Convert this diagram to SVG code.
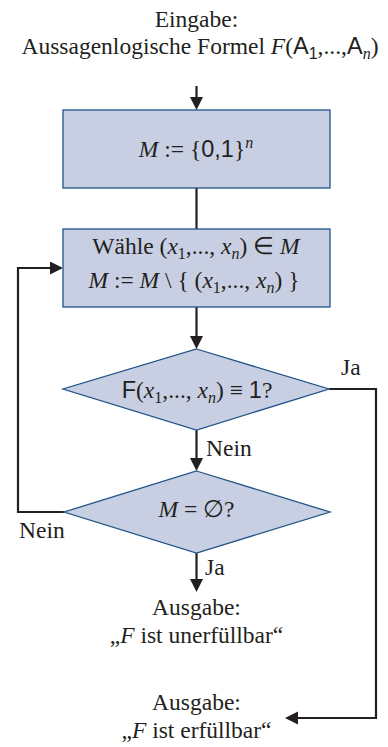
<svg xmlns="http://www.w3.org/2000/svg" width="388" height="747" viewBox="0 0 388 747">
<style>
.t{font-family:"Liberation Serif","Times New Roman",serif;font-size:23.5px;fill:#231f20}
.c{text-anchor:middle}
.s{font-family:"Liberation Sans",Arial,sans-serif}
.i{font-style:italic}
.sub{font-size:16px}
.node{fill:#c8cfe2;stroke:#1f5388;stroke-width:1.3}
.edge{fill:none;stroke:#231f20;stroke-width:2.2}
</style>
<defs>
<marker id="ah" markerUnits="userSpaceOnUse" markerWidth="14" markerHeight="14" refX="6" refY="6.5" orient="auto"><path d="M0,0 L13,6.5 L0,13 Z" fill="#231f20"/></marker>
</defs>
<g id="connectors">
<path class="edge" d="M196.5,86 V103" marker-end="url(#ah)"/>
<path class="edge" d="M196.5,188 V229"/>
<path class="edge" d="M196.5,307 V342" marker-end="url(#ah)"/>
<path class="edge" d="M196.5,430 V464" marker-end="url(#ah)"/>
<path class="edge" d="M196.5,553 V585" marker-end="url(#ah)"/>
<path class="edge" d="M64,512 H18 V268 H56" marker-end="url(#ah)"/>
<path class="edge" d="M329,389 H376 V718 H292" marker-end="url(#ah)"/>
<text class="t" x="341" y="375">Ja</text>
<text class="t" x="206" y="456">Nein</text>
<text class="t" x="19" y="538">Nein</text>
<text class="t" x="205" y="575">Ja</text>
</g>
<g id="input">
<text class="t c" x="196.5" y="27">Eingabe:</text>
<text class="t c" x="200" y="54">Aussagenlogische Formel <tspan class="i">F</tspan>(<tspan class="s">A</tspan><tspan class="s sub" dy="5">1</tspan><tspan dy="-5">,...,</tspan><tspan class="s">A</tspan><tspan class="i sub" dy="5">n</tspan><tspan dy="-5">)</tspan></text>
</g>
<g id="init">
<rect class="node" x="63" y="110" width="267" height="78"/>
<text class="t c" x="196" y="157"><tspan class="i">M</tspan> := {<tspan class="s">0,1</tspan>}<tspan class="i sub" dy="-9">n</tspan></text>
</g>
<g id="choose">
<rect class="node" x="63" y="229" width="267" height="78"/>
<text class="t c" x="196" y="254">Wähle (<tspan class="i">x</tspan><tspan class="sub" dy="5">1</tspan><tspan dy="-5">,..., </tspan><tspan class="i">x</tspan><tspan class="i sub" dy="5">n</tspan><tspan dy="-5">) ∈ </tspan><tspan class="i">M</tspan></text>
<text class="t c" x="194" y="288"><tspan class="i">M</tspan> := <tspan class="i">M</tspan> \ { (<tspan class="i">x</tspan><tspan class="sub" dy="5">1</tspan><tspan dy="-5">,..., </tspan><tspan class="i">x</tspan><tspan class="i sub" dy="5">n</tspan><tspan dy="-5">) }</tspan></text>
</g>
<g id="check">
<polygon class="node" points="196.5,349 329,389 196.5,430 63,389"/>
<text class="t c" x="197" y="398"><tspan class="s">F</tspan>(<tspan class="i">x</tspan><tspan class="sub" dy="5">1</tspan><tspan dy="-5">,..., </tspan><tspan class="i">x</tspan><tspan class="i sub" dy="5">n</tspan><tspan dy="-5">) ≡ </tspan><tspan class="s">1</tspan>?</text>
</g>
<g id="empty">
<polygon class="node" points="196.5,471 330,512 196.5,553 64,512"/>
<text class="t c" x="196.5" y="517"><tspan class="i">M</tspan> = ∅?</text>
</g>
<g id="out-unsat">
<text class="t c" x="196.5" y="615">Ausgabe:</text>
<text class="t c" x="196.5" y="643">„<tspan class="i">F</tspan> ist unerfüllbar“</text>
</g>
<g id="out-sat">
<text class="t c" x="196.5" y="710">Ausgabe:</text>
<text class="t c" x="196.5" y="738">„<tspan class="i">F</tspan> ist erfüllbar“</text>
</g>
</svg>
